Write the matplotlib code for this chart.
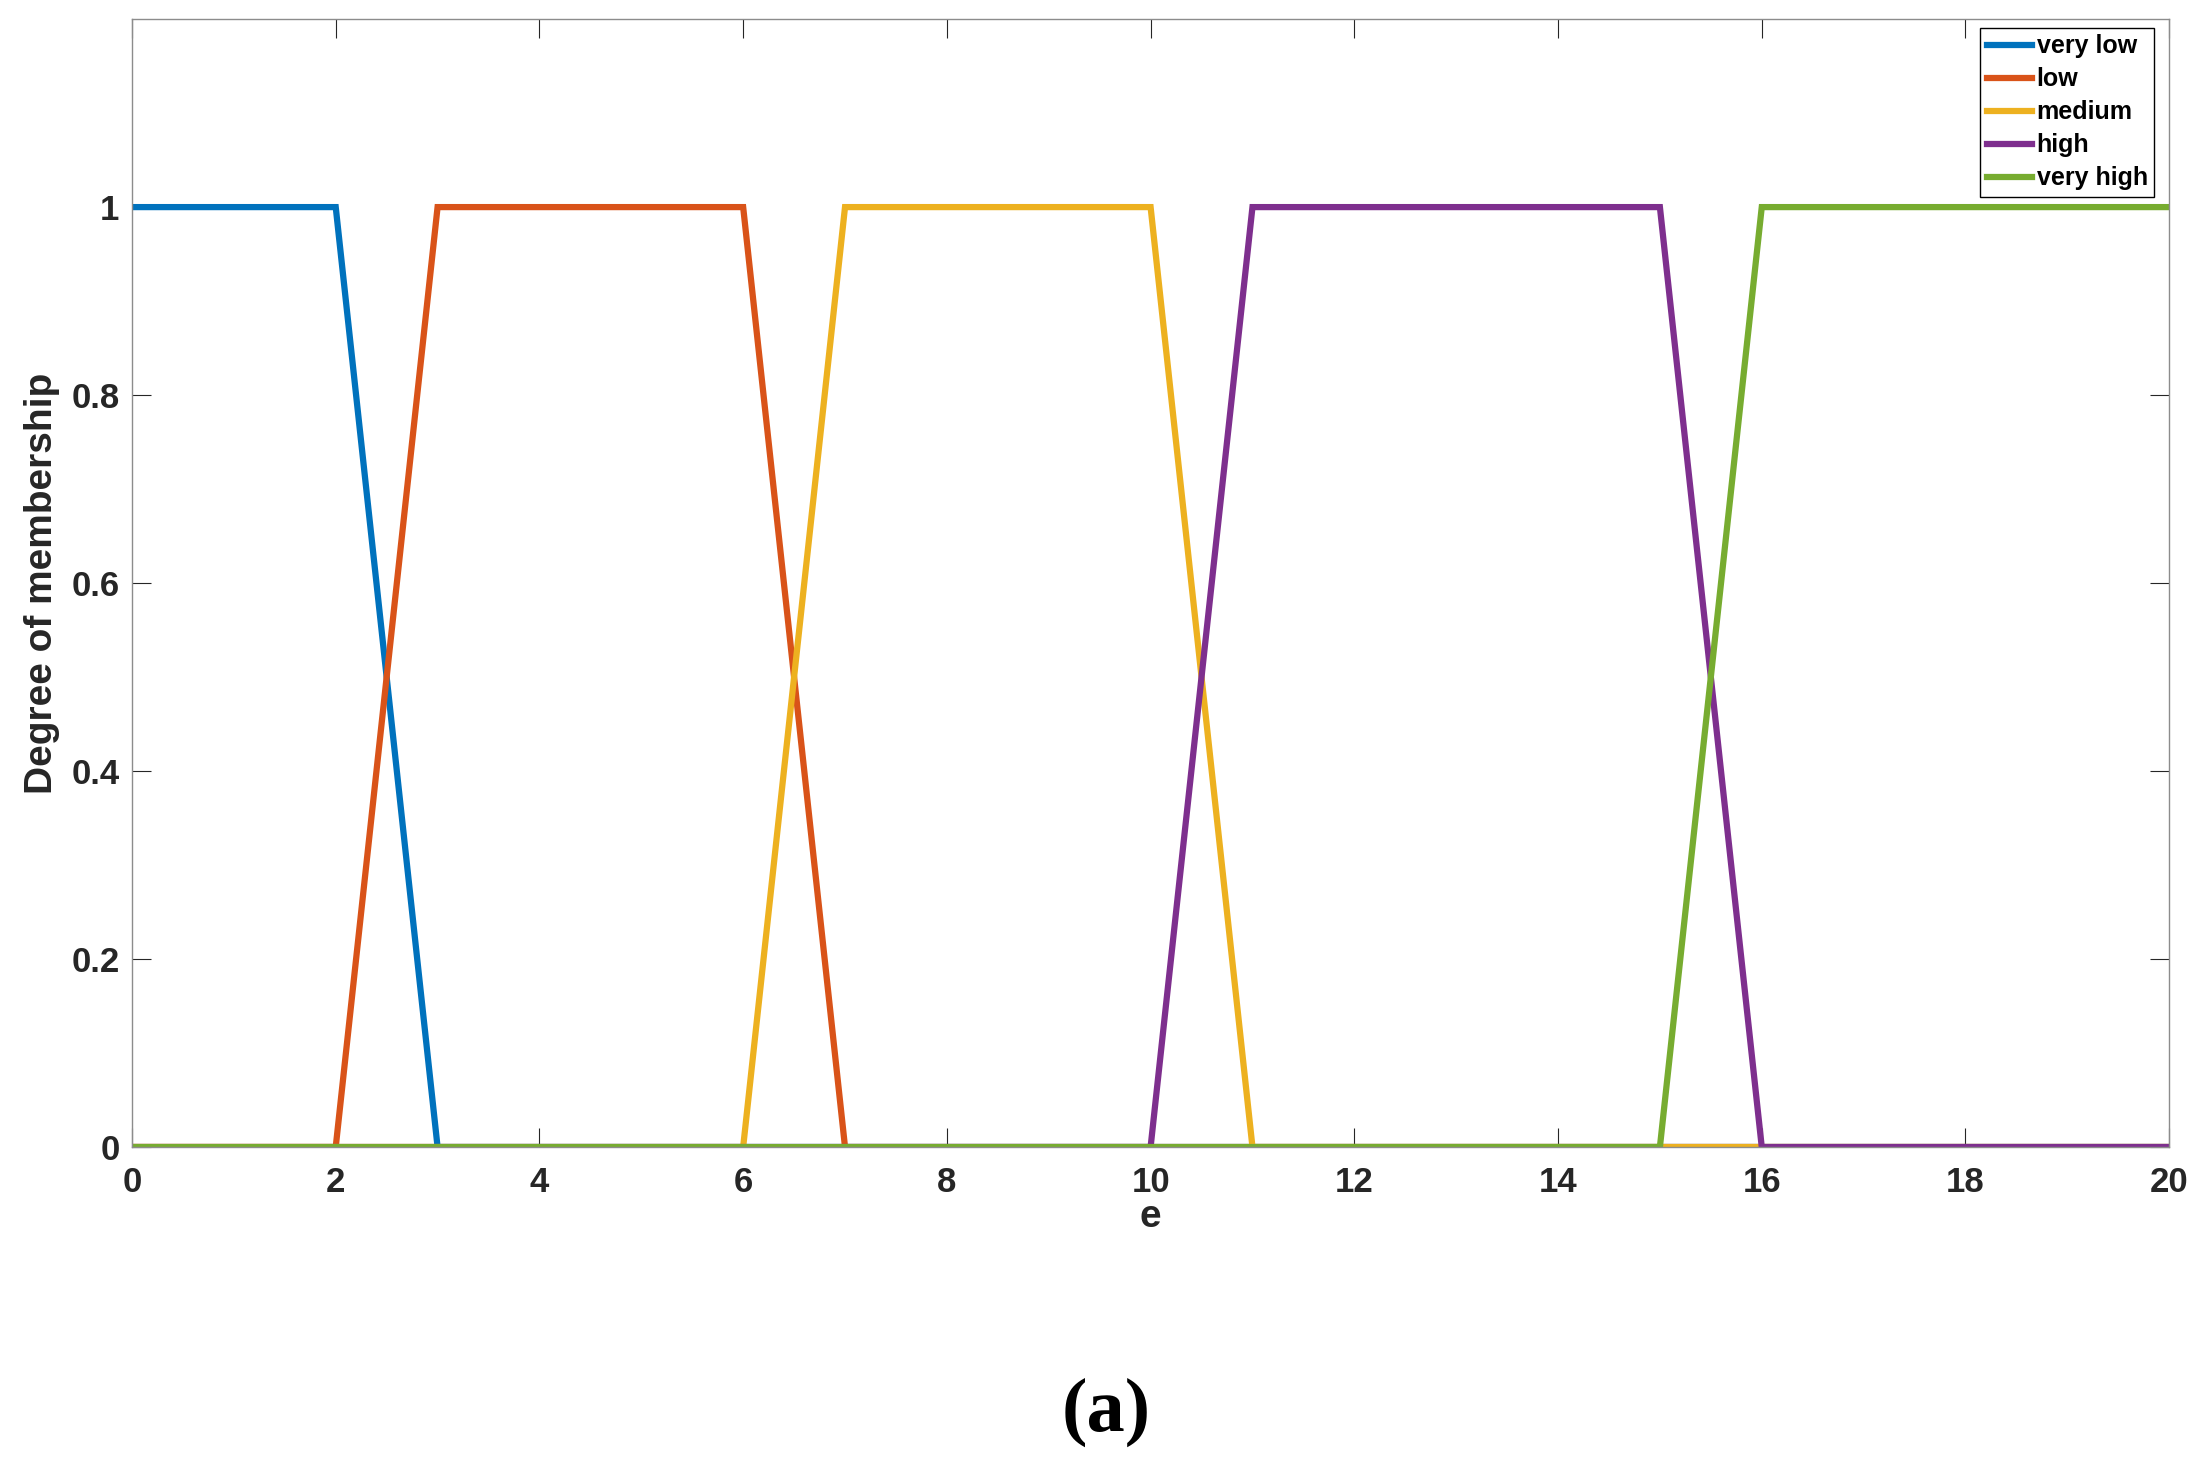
import matplotlib
matplotlib.use('Agg')
import matplotlib.pyplot as plt

# membership functions for e (trapezoids)
e_vlow = [0, 2, 3, 20]
mu_vlow = [1, 1, 0, 0]
e_low = [0, 2, 3, 6, 7, 20]
mu_low = [0, 0, 1, 1, 0, 0]
e_med = [0, 6, 7, 10, 11, 20]
mu_med = [0, 0, 1, 1, 0, 0]
e_high = [0, 10, 11, 15, 16, 20]
mu_high = [0, 0, 1, 1, 0, 0]
e_vhigh = [0, 15, 16, 20]
mu_vhigh = [0, 0, 1, 1]

labels = ['very low', 'low', 'medium', 'high', 'very high']
colors = ['#0072BD', '#D95319', '#EDB120', '#7E2F8E', '#77AC30']

xticks = [0, 2, 4, 6, 8, 10, 12, 14, 16, 18, 20]
yticks = [0, 0.2, 0.4, 0.6, 0.8, 1]

plt.rcParams['font.family'] = ['Liberation Sans', 'DejaVu Sans']

fig = plt.figure(figsize=(22, 14.7), dpi=100)
ax = fig.add_axes([0.06, 0.2197, 0.926, 0.7673])

series = [(e_vlow, mu_vlow), (e_low, mu_low), (e_med, mu_med),
          (e_high, mu_high), (e_vhigh, mu_vhigh)]
for (x, y), lab, c in zip(series, labels, colors):
    ax.plot(x, y, color=c, lw=4.5, label=lab, solid_joinstyle='miter')

ax.set_xlim(0, 20)
ax.set_ylim(0, 1.2)
ax.set_xticks(xticks)
ax.set_xticklabels([str(v) for v in xticks])
ax.set_yticks(yticks)
ax.set_yticklabels(['0', '0.2', '0.4', '0.6', '0.8', '1'])

for s in ax.spines.values():
    s.set_color('#8c8c8c')
    s.set_linewidth(1.0)
ax.tick_params(direction='in', length=14, width=0.8, color='#262626',
               top=True, right=True, labelsize=25, labelcolor='#262626')
ax.tick_params(axis='x', pad=14)
ax.tick_params(axis='y', pad=9)
for t in ax.get_xticklabels() + ax.get_yticklabels():
    t.set_fontweight('bold')

ax.set_xlabel('e', fontsize=28, fontweight='bold', color='#262626', labelpad=0)
ax.set_ylabel('Degree of membership', fontsize=28, fontweight='bold',
              color='#262626', labelpad=8)

leg = ax.legend(loc='upper right', bbox_to_anchor=(0.9926, 0.992),
                prop={'weight': 'bold', 'size': 18},
                fancybox=False, framealpha=1, edgecolor='black',
                handlelength=1.8, handletextpad=0.2, labelspacing=0.36,
                borderpad=0.25, borderaxespad=0)
leg.get_frame().set_linewidth(1.0)
for h in leg.get_lines():
    h.set_linewidth(4.5)

fig.text(0.503, 0.039, '(a)', fontsize=55, fontweight='bold',
         family=['Liberation Serif', 'DejaVu Serif'], ha='center', va='center')

fig.savefig('out.png', dpi=100)
